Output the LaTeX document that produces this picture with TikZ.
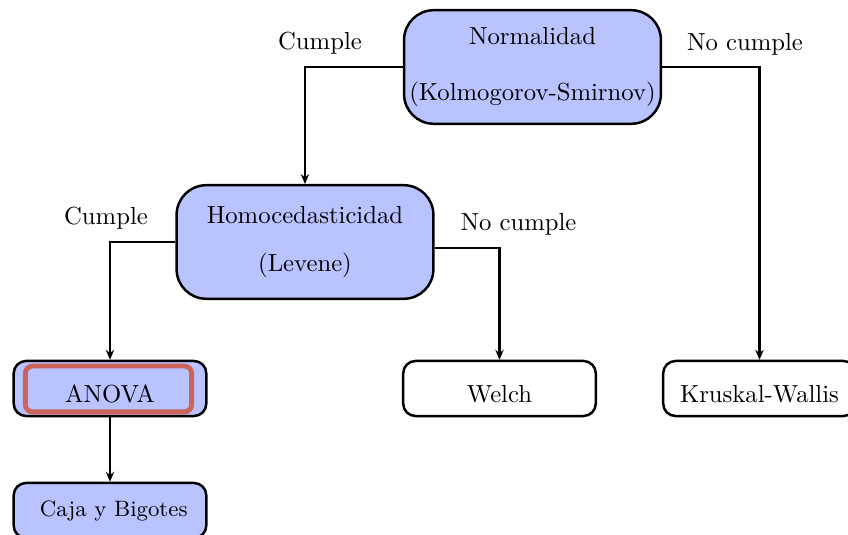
\documentclass[tikz,border=0pt]{standalone}
\usetikzlibrary{arrows.meta}
\definecolor{boxblue}{RGB}{185,195,255}
\definecolor{framered}{RGB}{205,100,92}
\begin{document}
\begin{tikzpicture}[x=0.405pt,y=-0.405pt,
  decision/.style={draw, line width=1pt, fill=boxblue, rounded corners=12pt,
    minimum width=104pt, minimum height=46pt, align=center, inner sep=0pt},
  outcome/.style={draw, line width=1pt, rounded corners=5pt,
    minimum width=78pt, minimum height=22.3pt, inner sep=0pt},
  lowtext/.style={text height=11pt, text depth=0pt},
  flow/.style={line width=1pt, -{Stealth[length=4pt,width=3.4pt]}},
  branch/.style={inner sep=0pt}]

\clip (0,0) rectangle (848,535);

% tests
\node[decision] (norm) at (532.5,67) {Normalidad\\[10.7pt](Kolmogorov-Smirnov)};
\node[decision] (homo) at (305,242) {Homocedasticidad\\[7.5pt](Levene)};

% outcomes
\node[outcome, lowtext, fill=boxblue] (anova) at (110,388.5) {ANOVA};
\node[draw=framered, line width=2pt, rounded corners=3pt,
  minimum width=67.4pt, minimum height=18.6pt, inner sep=0pt] (anovaframe) at (108.5,389) {};
\node[outcome, lowtext] (welch) at (499.5,388.5) {Welch};
\node[outcome, lowtext] (kw) at (759.5,388.5) {Kruskal-Wallis};
\node[outcome, fill=boxblue, font=\small] (caja) at (110,510.5) {\hspace{3pt}Caja y Bigotes};

% connectors
\draw[flow] (norm.west) -| (homo.north);
\draw[flow] (norm.east) -| (kw.north);
\draw[flow] (homo.west) -| (anova.north);
\draw[flow] ([yshift=-2.4pt]homo.east) -| (welch.north);
\draw[flow] (anova.south) -- (caja.north);

% branch labels
\node[branch] (c1) at (320,43) {Cumple};
\node[branch] (n1) at (745,44) {No cumple};
\node[branch] (c2) at (106,218) {Cumple};
\node[branch] (n2) at (518.5,224) {No cumple};
\end{tikzpicture}
\end{document}
